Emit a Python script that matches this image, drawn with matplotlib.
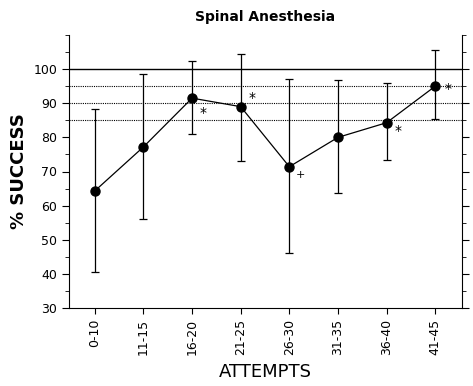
import numpy as np
from matplotlib import pyplot as plt

# Data
attempts = ["0-10", "11-15", "16-20", "21-25", "26-30", "31-35", "36-40", "41-45"]
success = [64.3, 77.2, 91.5, 89.0, 71.4, 80.0, 84.3, 95.0]
err_low = [40.5, 56.0, 81.0, 73.0, 46.0, 63.8, 73.5, 85.5]
err_high = [88.2, 98.5, 102.5, 104.5, 97.0, 96.8, 96.0, 105.5]
marks = ["", "", "*", "*", "+", "", "*", "*"]
ref_lines = [95, 90, 85]

fig = plt.figure(figsize=(4.73, 3.86), dpi=100)
ax = fig.add_axes([69 / 473, 78 / 386, (462 - 69) / 473, (308 - 35) / 386])

x = np.arange(len(attempts))
y = np.array(success)
yerr = np.array([y - np.array(err_low), np.array(err_high) - y])

# Reference lines
ax.axhline(100, color="black", lw=1.0, zorder=1)
for r in ref_lines:
    ax.axhline(r, color="black", lw=0.8, ls=(0, (1, 1)), zorder=1)

ax.errorbar(x, y, yerr=yerr, fmt="-o", color="black", ms=6.5, lw=0.9,
            elinewidth=0.9, capsize=3, capthick=0.9, zorder=3)

# Significance marks next to the points
offsets = {2: (8, -11), 3: (8, 6), 4: (8, -6), 6: (8, -6), 7: (9, -2)}
for i, m in enumerate(marks):
    if m:
        dx, dy = offsets[i]
        ax.annotate(m, (x[i], y[i]), xytext=(dx, dy), textcoords="offset points",
                    fontsize=10 if m == "*" else 8, ha="center", va="center")

ax.set_xlim(-0.53, 7.55)
ax.set_ylim(30, 110)
ax.set_yticks(np.arange(30, 101, 10))
ax.set_yticks(np.arange(30, 111, 5), minor=True)
ax.set_xticks(x)
ax.set_xticklabels(attempts, rotation=90, fontsize=9)
ax.tick_params(axis="y", labelsize=9, length=5, direction="out")
ax.tick_params(axis="y", which="minor", length=3)
ax.tick_params(axis="y", which="both", right=True)
ax.tick_params(axis="x", length=4)

ax.spines["top"].set_visible(False)
ax.set_title("Spinal Anesthesia", fontsize=10, fontweight="bold", pad=10)
ax.set_ylabel("% SUCCESS", fontsize=13, fontweight="bold", labelpad=4)
ax.set_xlabel("ATTEMPTS", fontsize=13, labelpad=6)

fig.savefig("out.png", dpi=100)
